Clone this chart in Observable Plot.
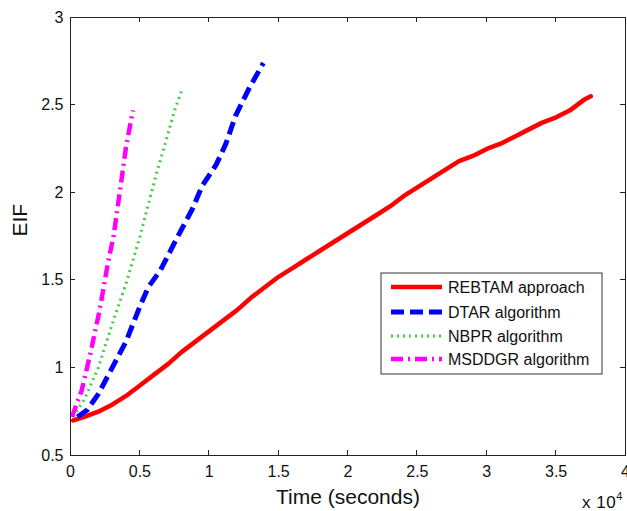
<!DOCTYPE html>
<html>
<head>
<meta charset="utf-8">
<script src="https://cdn.jsdelivr.net/npm/d3@7"></script>
<script src="https://cdn.jsdelivr.net/npm/@observablehq/plot@0.6"></script>
<style>
  html, body { margin: 0; padding: 0; background: white; }
  #wrap { position: relative; width: 627px; height: 511px; overflow: hidden; font-family: "Liberation Sans", Arial, sans-serif; }
  #mult { position: absolute; left: 582px; top: 491px; font-size: 17px; letter-spacing: 0.5px; color: #111; white-space: nowrap; }
  #mult sup { font-size: 11px; position: relative; top: -1px; }
</style>
</head>
<body>
<div id="wrap"></div>
<script>
// Tick labels
const xTicks = [0, 0.5, 1, 1.5, 2, 2.5, 3, 3.5, 4];
const yTicks = [0.5, 1, 1.5, 2, 2.5, 3];

// Series names
const seriesNames = ["REBTAM approach", "DTAR algorithm", "NBPR algorithm", "MSDDGR algorithm"];

// REBTAM approach (x in units of 10^4 seconds)
const rebtamX = [0.02, 0.1, 0.2, 0.3, 0.4, 0.5, 0.6, 0.7, 0.8, 0.9, 1.0, 1.1, 1.2, 1.3, 1.4, 1.5, 1.6, 1.7, 1.8, 1.9, 2.0, 2.1, 2.2, 2.3, 2.4, 2.5, 2.6, 2.7, 2.8, 2.9, 3.0, 3.1, 3.2, 3.3, 3.4, 3.5, 3.6, 3.65, 3.7, 3.75];
const rebtamY = [0.70, 0.72, 0.75, 0.79, 0.84, 0.90, 0.96, 1.02, 1.09, 1.15, 1.21, 1.27, 1.33, 1.40, 1.46, 1.52, 1.57, 1.62, 1.67, 1.72, 1.77, 1.82, 1.87, 1.92, 1.98, 2.03, 2.08, 2.13, 2.18, 2.21, 2.25, 2.28, 2.32, 2.36, 2.40, 2.43, 2.47, 2.50, 2.53, 2.55];

// DTAR algorithm
const dtarX = [0.05, 0.12, 0.2, 0.3, 0.4, 0.5, 0.56, 0.65, 0.76, 0.88, 0.95, 1.05, 1.12, 1.19, 1.29, 1.39];
const dtarY = [0.72, 0.76, 0.85, 1.00, 1.15, 1.35, 1.46, 1.56, 1.73, 1.91, 2.04, 2.16, 2.28, 2.44, 2.60, 2.74];

// NBPR algorithm
const nbprX = [0.02, 0.1, 0.2, 0.3, 0.4, 0.5, 0.56, 0.62, 0.69, 0.75, 0.8];
const nbprY = [0.72, 0.82, 1.00, 1.25, 1.48, 1.75, 1.93, 2.11, 2.30, 2.47, 2.58];

// MSDDGR algorithm
const msddgrX = [0.01, 0.08, 0.14, 0.21, 0.27, 0.31, 0.36, 0.40, 0.45];
const msddgrY = [0.72, 0.87, 1.07, 1.33, 1.60, 1.75, 2.03, 2.26, 2.47];

const colors = ["#ff0000", "#0000ff", "#44cc44", "#ff00ff"];
const widths = [4.5, 5, 3, 4.5];
const dashes = [null, "13,6", "2,4", "12,5,2,5"];

const toRows = (xs, ys) => xs.map((x, i) => ({x, y: ys[i]}));
const seriesData = [toRows(rebtamX, rebtamY), toRows(dtarX, dtarY), toRows(nbprX, nbprY), toRows(msddgrX, msddgrY)];

const lineMarks = seriesData.map((rows, i) => Plot.line(rows, {
  x: "x", y: "y", stroke: colors[i], strokeWidth: widths[i],
  strokeDasharray: dashes[i], strokeLinecap: dashes[i] ? "butt" : "round", strokeLinejoin: "round"
}));

const yMin = yTicks[0], yMax = yTicks[yTicks.length - 1];
const xMin = xTicks[0], xMax = xTicks[xTicks.length - 1];

const chart = Plot.plot({
  width: 627, height: 511,
  marginLeft: 70, marginRight: 2, marginTop: 17, marginBottom: 56,
  x: {domain: [xMin, xMax]},
  y: {domain: [yMin, yMax]},
  style: {fontFamily: "'Liberation Sans', Arial, sans-serif", fontSize: "16px", background: "white", color: "#111", overflow: "visible"},
  marks: [
    ...lineMarks,
    Plot.frame({stroke: "#222", strokeWidth: 1}),
    Plot.axisX({ticks: xTicks, anchor: "bottom", tickSize: 0, tickPadding: 10, fontSize: 16, label: null, tickFormat: d => String(d)}),
    Plot.axisY({ticks: yTicks, anchor: "left", tickSize: 0, tickPadding: 7, fontSize: 16, label: null, tickFormat: d => String(d)}),
    Plot.text(["Time (seconds)"], {frameAnchor: "bottom", dy: 42, lineAnchor: "middle", fontSize: 21, fill: "#111"}),
    Plot.text(["EIF"], {frameAnchor: "left", dx: -50, rotate: -90, lineAnchor: "middle", fontSize: 21, fill: "#111"})
  ]
});

document.getElementById("wrap").appendChild(chart);

const sx = chart.scale("x"), sy = chart.scale("y");
const svg = d3.select(chart);

// Inward ticks on all four sides (MATLAB style), positioned via Plot's scales
const tickLen = 5;
const tg = svg.append("g").attr("stroke", "#222").attr("stroke-width", 1).attr("shape-rendering", "crispEdges");
xTicks.forEach(t => {
  const px = sx.apply(t), yb = sy.apply(yMin), yt = sy.apply(yMax);
  tg.append("line").attr("x1", px).attr("x2", px).attr("y1", yb).attr("y2", yb - tickLen);
  tg.append("line").attr("x1", px).attr("x2", px).attr("y1", yt).attr("y2", yt + tickLen);
});
yTicks.forEach(t => {
  const py = sy.apply(t), xl = sx.apply(xMin), xr = sx.apply(xMax);
  tg.append("line").attr("x1", xl).attr("x2", xl + tickLen).attr("y1", py).attr("y2", py);
  tg.append("line").attr("x1", xr).attr("x2", xr - tickLen).attr("y1", py).attr("y2", py);
});

// Legend drawn inside the plot's SVG (MATLAB-style boxed legend)
const lg = svg.append("g").attr("transform", "translate(381,273)").attr("text-anchor", "start");
lg.append("rect").attr("width", 221).attr("height", 101).attr("fill", "white").attr("stroke", "#333").attr("stroke-width", 1);
const rowY = [14, 39, 63, 86];
seriesNames.forEach((name, i) => {
  lg.append("line").attr("x1", 10).attr("x2", 61).attr("y1", rowY[i]).attr("y2", rowY[i])
    .attr("stroke", colors[i]).attr("stroke-width", widths[i])
    .attr("stroke-dasharray", dashes[i]);
  lg.append("text").attr("x", 67).attr("y", rowY[i]).attr("dy", "0.35em")
    .attr("text-anchor", "start")
    .attr("font-size", 16).attr("fill", "#111").text(name);
});

// x 10^4 multiplier
const mult = document.createElement("div");
mult.id = "mult";
mult.innerHTML = "x 10<sup>4</sup>";
document.getElementById("wrap").appendChild(mult);
</script>
</body>
</html>
